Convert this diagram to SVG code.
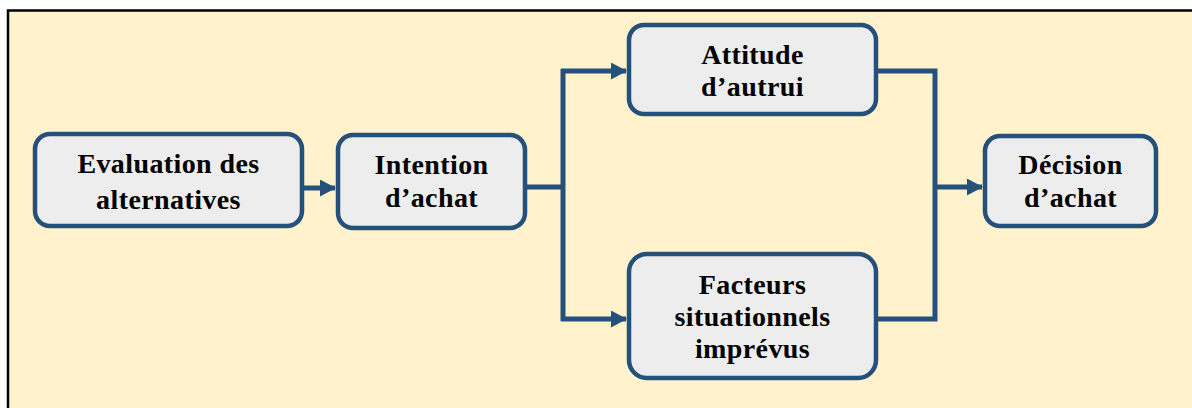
<svg xmlns="http://www.w3.org/2000/svg" width="1192" height="408" viewBox="0 0 1192 408">
<defs>
<style>
.bg{fill:#FFF2CC;stroke:#000;stroke-width:2.5}
.node rect{fill:#EDEDED;stroke:#24507A;stroke-width:4.5}
.node text{font-family:"Liberation Serif","Times New Roman",serif;font-weight:bold;font-size:28px;fill:#000;text-anchor:middle;letter-spacing:0.4px}
.conn path{fill:none;stroke:#24507A;stroke-width:5}
</style>
<marker id="arr" markerUnits="userSpaceOnUse" markerWidth="16" markerHeight="17" refX="15" refY="8.5" orient="auto">
<path d="M0,0 L16,8.5 L0,17 Z" fill="#24507A"/>
</marker>
</defs>
<rect class="bg" x="8" y="10.5" width="1200" height="420"/>
<g id="connectors" class="conn">
<path d="M303,188 L335,188" marker-end="url(#arr)"/>
<path d="M527,187 L563,187"/>
<path d="M563,69 L563,321"/>
<path d="M561,71 L626,71" marker-end="url(#arr)"/>
<path d="M561,319 L626,319" marker-end="url(#arr)"/>
<path d="M878,71 L935,71 L935,319 L878,319"/>
<path d="M935,187 L982,187" marker-end="url(#arr)"/>
</g>
<g id="n1" class="node">
<rect x="35" y="134" width="267" height="92" rx="15"/>
<text x="168.5" y="173">Evaluation des</text>
<text x="168.5" y="209">alternatives</text>
</g>
<g id="n2" class="node">
<rect x="338" y="135" width="187" height="93" rx="15"/>
<text x="431.5" y="174">Intention</text>
<text x="431.5" y="207">d’achat</text>
</g>
<g id="n3" class="node">
<rect x="629" y="25" width="247" height="89" rx="15"/>
<text x="752.5" y="64">Attitude</text>
<text x="752.5" y="96">d’autrui</text>
</g>
<g id="n4" class="node">
<rect x="629" y="254" width="247" height="124" rx="18"/>
<text x="752.5" y="294">Facteurs</text>
<text x="752.5" y="326">situationnels</text>
<text x="752.5" y="358">imprévus</text>
</g>
<g id="n5" class="node">
<rect x="985" y="136" width="171" height="90" rx="15"/>
<text x="1070.5" y="174">Décision</text>
<text x="1070.5" y="207">d’achat</text>
</g>
</svg>
